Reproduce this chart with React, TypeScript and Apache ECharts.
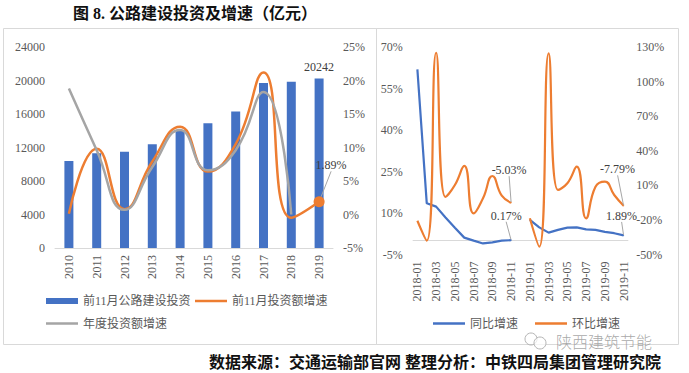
import React, { useEffect, useRef } from 'react';
import * as echarts from 'echarts';

// ---------- data ----------
const years = ['2010', '2011', '2012', '2013', '2014', '2015', '2016', '2017', '2018', '2019'];
const investmentYtd = [10400, 11300, 11500, 12400, 14100, 14900, 16300, 19700, 19860, 20242];
const growthYtd = [0.1, 9.8, 0.8, 7.9, 13.1, 6.4, 10.5, 21.2, -0.5, 1.89];
const growthAnnual = [18.8, 9.6, 0.7, 7.1, 12.6, 6.6, 9.6, 18.3, 0.0, null];

const months = [
  '2018-01', '2018-02', '2018-03', '2018-04', '2018-05', '2018-06', '2018-07', '2018-08', '2018-09', '2018-10', '2018-11', '2018-12',
  '2019-01', '2019-02', '2019-03', '2019-04', '2019-05', '2019-06', '2019-07', '2019-08', '2019-09', '2019-10', '2019-11',
];
const yoyGrowth = [61.9, 13.5, 12.3, 8.4, 4.7, 1.1, 0.0, -1.0, -0.6, 0.0, 0.17, null, 7.5, 4.8, 2.9, 3.9, 4.7, 4.8, 4.1, 3.9, 3.2, 2.7, 1.89];
const momGrowth = [-20.7, -38, 125, 0, 10.3, 26.8, -14.3, -1.2, 18.1, 1.0, -5.03, null, -18.6, -43.2, 124.5, 6, 11.8, 26.2, -18.6, 8.8, 13.2, 1.6, -7.79];

const yoyTicks = [-5, 10, 25, 40, 55, 70];
const momTicks = [-50, -20, 10, 40, 70, 100, 130];

const titleText = '图 8. 公路建设投资及增速（亿元）';
const sourceText = '数据来源：交通运输部官网 整理分析：中铁四局集团管理研究院';
const watermarkText = '陕西建筑节能';

// ---------- styles ----------
const SERIF = "'Liberation Serif', 'Times New Roman', 'Noto Sans CJK SC', serif";
const CJK_BOLD = "'Liberation Serif', 'Noto Sans CJK SC', sans-serif";
const TXT = '#595959';
const BLUE = '#4472C4';
const ORANGE = '#ED7D31';
const GRAY = '#A5A5A5';
const BORDER = '#D9D9D9';

type Offsets = Record<number, [number, number]>;

function withLabels(values: (number | null)[], offsets: Offsets, color: string) {
  return values.map((v, i) => {
    if (offsets[i] === undefined || v === null) return v;
    return {
      value: v,
      symbol: 'circle',
      symbolSize: 1,
      itemStyle: { color },
      label: {
        show: true,
        position: 'top',
        formatter: (p: any) => `${p.value}%`,
        fontSize: 12,
        fontFamily: SERIF,
        color: '#404040',
      },
      labelLine: { show: true, lineStyle: { color: '#A6A6A6', width: 1 } },
    };
  });
}

function layoutFor(offsets: Offsets) {
  return (params: any) => {
    const o = offsets[params.dataIndex];
    return o ? { dx: o[0], dy: o[1] } : {};
  };
}

const legendText = { color: TXT, fontSize: 12, fontFamily: SERIF };
const lineLegend = { padding: 0, itemWidth: 32, itemHeight: 2.5, icon: 'rect', textStyle: legendText };

export default function App() {
  const ref = useRef<HTMLDivElement>(null);

  useEffect(() => {
    document.body.style.margin = '0';
    if (!ref.current) return;
    const chart = echarts.init(ref.current, undefined, { renderer: 'svg' });

    const ytdOffsets: Offsets = { 9: [12, -20] };
    const yoyOffsets: Offsets = { 10: [-5, -13], 22: [-2, -8] };
    const momOffsets: Offsets = { 10: [-2, -21], 22: [-6, -25] };

    const ytdData = growthYtd.map((v, i) =>
      i === growthYtd.length - 1
        ? {
            value: v,
            symbol: 'circle',
            symbolSize: 11,
            itemStyle: { color: ORANGE },
            label: {
              show: true,
              position: 'top',
              formatter: (p: any) => `${p.value}%`,
              fontSize: 12,
              fontFamily: SERIF,
              color: '#404040',
            },
            labelLine: { show: true, lineStyle: { color: '#A6A6A6', width: 1 } },
          }
        : v
    );

    const barData = investmentYtd.map((v, i) =>
      i === investmentYtd.length - 1
        ? { value: v, label: { show: true, position: 'top', fontSize: 12, fontFamily: SERIF, color: '#404040' } }
        : v
    );

    const option: any = {
      animation: false,
      backgroundColor: '#ffffff',
      textStyle: { fontFamily: SERIF },
      grid: [
        { left: 55, top: 47, width: 278, height: 201 },
        { left: 412.7, top: 47, width: 215.6, height: 207.5 },
      ],
      xAxis: [
        {
          type: 'category',
          gridIndex: 0,
          data: years,
          axisLine: { lineStyle: { color: BORDER } },
          axisTick: { show: false },
          axisLabel: { rotate: 90, color: TXT, fontSize: 12, fontFamily: SERIF, margin: 7 },
        },
        {
          type: 'category',
          gridIndex: 1,
          data: months,
          axisLine: { show: false },
          axisTick: { show: false },
          axisLabel: { rotate: 90, interval: 1, color: TXT, fontSize: 12, fontFamily: SERIF, margin: 7 },
        },
      ],
      yAxis: [
        {
          type: 'value',
          gridIndex: 0,
          min: 0,
          max: 24000,
          interval: 4000,
          splitLine: { show: false },
          axisLine: { show: false },
          axisTick: { show: false },
          axisLabel: { color: TXT, fontSize: 12, fontFamily: SERIF, margin: 10, formatter: (v: number) => String(v) },
        },
        {
          type: 'value',
          gridIndex: 0,
          position: 'right',
          min: -5,
          max: 25,
          interval: 5,
          splitLine: { show: false },
          axisLine: { show: false },
          axisTick: { show: false },
          axisLabel: { color: TXT, fontSize: 12, fontFamily: SERIF, margin: 10, formatter: '{value}%' },
        },
        {
          type: 'value',
          gridIndex: 1,
          min: -5,
          max: 70,
          splitLine: { show: false },
          axisLine: { show: false },
          axisTick: { show: false },
          axisLabel: { customValues: yoyTicks, color: TXT, fontSize: 12, fontFamily: SERIF, margin: 10, formatter: '{value}%' },
        },
        {
          type: 'value',
          gridIndex: 1,
          position: 'right',
          min: -50,
          max: 130,
          splitLine: { show: false },
          axisLine: { show: false },
          axisTick: { show: false },
          axisLabel: { customValues: momTicks, color: TXT, fontSize: 12, fontFamily: SERIF, margin: 8, formatter: '{value}%' },
        },
      ],
      legend: [
        { data: ['前11月公路建设投资'], left: 46, top: 295, padding: 0, itemWidth: 32, itemHeight: 6, icon: 'rect', textStyle: legendText },
        { data: ['前11月投资额增速'], left: 195, top: 295, ...lineLegend },
        { data: ['年度投资额增速'], left: 46, top: 317.5, ...lineLegend },
        { data: ['同比增速'], left: 433, top: 317.5, ...lineLegend },
        { data: ['环比增速'], left: 535, top: 317.5, ...lineLegend },
      ],
      series: [
        {
          name: '前11月公路建设投资',
          type: 'bar',
          xAxisIndex: 0,
          yAxisIndex: 0,
          barWidth: 9,
          itemStyle: { color: BLUE },
          data: barData,
        },
        {
          name: '前11月投资额增速',
          type: 'line',
          xAxisIndex: 0,
          yAxisIndex: 1,
          smooth: true,
          symbol: 'none',
          itemStyle: { color: ORANGE },
          lineStyle: { color: ORANGE, width: 2.5 },
          labelLayout: layoutFor(ytdOffsets),
          data: ytdData,
        },
        {
          name: '年度投资额增速',
          type: 'line',
          xAxisIndex: 0,
          yAxisIndex: 1,
          smooth: true,
          symbol: 'none',
          itemStyle: { color: GRAY },
          lineStyle: { color: GRAY, width: 2.5 },
          data: growthAnnual,
        },
        {
          name: '同比增速',
          type: 'line',
          xAxisIndex: 1,
          yAxisIndex: 2,
          smooth: false,
          symbol: 'none',
          connectNulls: false,
          itemStyle: { color: BLUE },
          lineStyle: { color: BLUE, width: 2.2 },
          labelLayout: layoutFor(yoyOffsets),
          data: withLabels(yoyGrowth, yoyOffsets, BLUE),
          markLine: {
            silent: true,
            symbol: 'none',
            label: { show: false },
            lineStyle: { color: BORDER, width: 1, type: 'solid' },
            data: [{ yAxis: 0 }],
            z: 1,
          },
        },
        {
          name: '环比增速',
          type: 'line',
          xAxisIndex: 1,
          yAxisIndex: 3,
          smooth: true,
          symbol: 'none',
          connectNulls: false,
          itemStyle: { color: ORANGE },
          lineStyle: { color: ORANGE, width: 2.2 },
          labelLayout: layoutFor(momOffsets),
          data: withLabels(momGrowth, momOffsets, ORANGE),
        },
      ],
      graphic: [
        { type: 'rect', shape: { x: 3.5, y: 28.5, width: 373, height: 316 }, style: { fill: 'none', stroke: BORDER, lineWidth: 1 }, z: -1 },
        { type: 'rect', shape: { x: 376.5, y: 28.5, width: 302, height: 316 }, style: { fill: 'none', stroke: BORDER, lineWidth: 1 }, z: -1 },
        {
          type: 'text',
          x: 73,
          y: 13,
          style: { text: titleText, fontSize: 16, fontWeight: 'bold', fontFamily: CJK_BOLD, fill: '#111', verticalAlign: 'middle' },
        },
        {
          type: 'text',
          x: 661,
          y: 362,
          style: { text: sourceText, fontSize: 16, fontWeight: 'bold', fontFamily: CJK_BOLD, fill: '#111', align: 'right', verticalAlign: 'middle' },
        },
        { type: 'circle', shape: { cx: 531, cy: 339, r: 6 }, style: { fill: 'none', stroke: '#B5B5B5', lineWidth: 1 } },
        { type: 'circle', shape: { cx: 540, cy: 343, r: 6 }, style: { fill: 'rgba(255,255,255,0.7)', stroke: '#B5B5B5', lineWidth: 1 } },
        {
          type: 'text',
          x: 556,
          y: 341,
          style: { text: watermarkText, fontSize: 16, fontFamily: "'Noto Sans CJK SC', sans-serif", fontWeight: 300, fill: 'rgba(140,140,140,0.75)', verticalAlign: 'middle' },
        },
      ],
    };

    chart.setOption(option);
    return () => chart.dispose();
  }, []);

  return <div ref={ref} style={{ width: 689, height: 373 }} />;
}
